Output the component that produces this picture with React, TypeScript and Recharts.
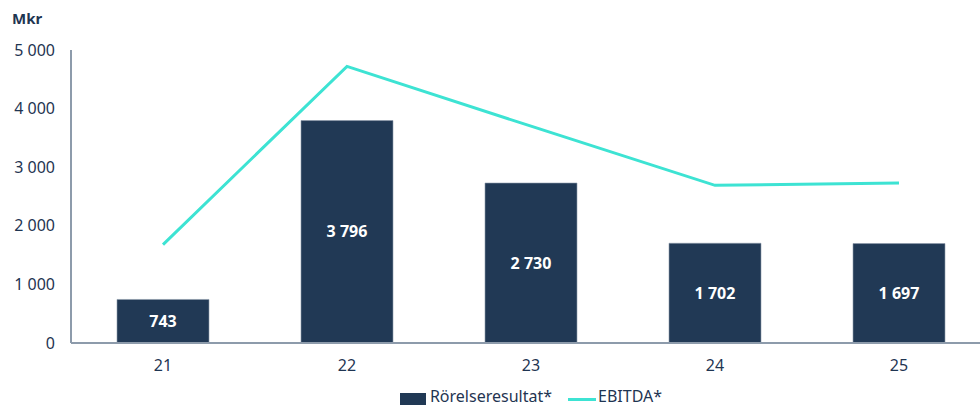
import React from 'react';
import { ComposedChart, Bar, Line, XAxis, YAxis, Legend, LabelList } from 'recharts';

const years = ['21', '22', '23', '24', '25'];
const rorelseresultat = [743, 3796, 2730, 1702, 1697];
const ebitda = [1680, 4720, 3700, 2690, 2730];
const yTicks = [0, 1000, 2000, 3000, 4000, 5000];

const data = years.map((year, i) => ({
    year,
    rorelseresultat: rorelseresultat[i],
    ebitda: ebitda[i],
}));

const NAVY = '#213955';
const TEAL = '#3de3d3';
const TEXT = '#1f3552';
const AXIS = '#8d9bab';
const FONT = '"Noto Sans", sans-serif';

// swedish style thousands: "3 796"
const fmt = (v: number) => String(v).replace(/\B(?=(\d{3})+(?!\d))/g, ' ');

const LegendContent = () => (
    <div style={{ display: 'flex', justifyContent: 'center', alignItems: 'center', fontFamily: FONT, fontSize: 16, color: TEXT, paddingLeft: 71 }}>
        <span style={{ display: 'inline-block', width: 26, height: 12, background: NAVY, marginRight: 4, marginTop: 6 }} />
        <span>Rörelseresultat*</span>
        <span style={{ display: 'inline-block', width: 28, height: 3, background: TEAL, marginLeft: 16, marginRight: 2, marginTop: 6 }} />
        <span>EBITDA*</span>
    </div>
);

const App: React.FC = () => {
    return (
        <div style={{ position: 'fixed', left: 0, top: 0, width: 980, height: 407, overflow: 'hidden', background: '#fff' }}>
            <div style={{ position: 'absolute', left: 12, top: 8, fontFamily: FONT, fontWeight: 700, fontSize: 15, color: TEXT }}>
                Mkr
            </div>
            <ComposedChart
                width={1000}
                height={407}
                data={data}
                margin={{ top: 50, right: 9, left: 0, bottom: 0 }}
                barCategoryGap="25%"
            >
                <XAxis
                    dataKey="year"
                    tickLine={false}
                    tickMargin={11}
                    height={42}
                    stroke={AXIS}
                    strokeWidth={2}
                    tick={{ fill: TEXT, fontSize: 16, fontFamily: FONT }}
                />
                <YAxis
                    domain={[0, 5000]}
                    ticks={yTicks}
                    width={71}
                    tickLine={false}
                    tickMargin={10}
                    stroke={AXIS}
                    strokeWidth={2}
                    tickFormatter={fmt}
                    tick={{ fill: TEXT, fontSize: 16, fontFamily: FONT }}
                />
                <Legend verticalAlign="bottom" height={22} content={<LegendContent />} />
                <Bar dataKey="rorelseresultat" name="Rörelseresultat*" fill={NAVY} stroke="#8d9bab" strokeWidth={0.6} isAnimationActive={false}>
                    <LabelList
                        dataKey="rorelseresultat"
                        position="center"
                        formatter={(v: number) => fmt(v)}
                        fill="#ffffff"
                        style={{ fontFamily: FONT, fontWeight: 700, fontSize: 16 }}
                    />
                </Bar>
                <Line
                    dataKey="ebitda"
                    name="EBITDA*"
                    stroke={TEAL}
                    strokeWidth={3}
                    dot={false}
                    activeDot={false}
                    type="linear"
                    isAnimationActive={false}
                />
            </ComposedChart>
        </div>
    );
};

export default App;
